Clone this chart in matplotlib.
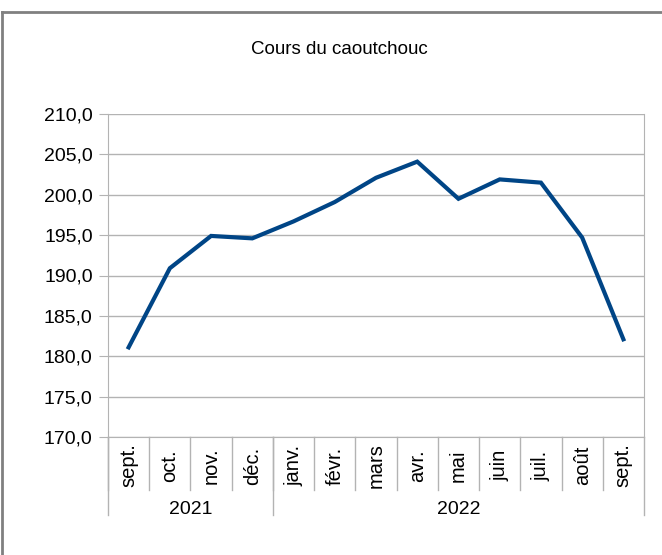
import matplotlib.pyplot as plt
from matplotlib.lines import Line2D

plt.rcParams['font.family'] = ['Liberation Sans', 'DejaVu Sans']

# Data
months = ["sept.", "oct.", "nov.", "déc.", "janv.", "févr.", "mars",
          "avr.", "mai", "juin", "juil.", "août", "sept."]
prices = [181.1, 190.9, 194.9, 194.6, 196.7, 199.1, 202.1,
          204.1, 199.5, 201.9, 201.5, 194.7, 182.1]
years = ["2021", "2022"]
year_counts = [4, 9]

fig = plt.figure(figsize=(6.62, 5.55), dpi=100)
ax = fig.add_axes([108 / 662, 118 / 555, 536 / 662, 323 / 555])

x = list(range(len(months)))
ax.plot(x, prices, color="#004586", linewidth=3, solid_joinstyle="miter")

ax.set_xlim(-0.5, len(months) - 0.5)
ax.set_ylim(170, 210)
ax.set_yticks(range(170, 211, 5))
ax.set_yticklabels([f"{v},0" for v in range(170, 211, 5)], fontsize=14)
ax.yaxis.grid(True, color="#b3b3b3", linewidth=1)
ax.set_axisbelow(True)
ax.tick_params(axis="y", length=6.5, color="#b3b3b3", pad=4.5)
ax.set_xticks([])
for side in ["left", "right", "bottom"]:
    ax.spines[side].set_color("#b3b3b3")
ax.spines["top"].set_visible(False)

trans = ax.get_xaxis_transform()
# month separators and labels
for i, m in enumerate(months):
    ax.plot([i - 0.5, i - 0.5], [0, -0.164], transform=trans, color="#b3b3b3",
            linewidth=1, clip_on=False)
    ax.text(i, -0.088, m, transform=trans, rotation=90, ha="center", va="center",
            fontsize=14.5)

# year groups
start = 0
for yr, n in zip(years, year_counts):
    ax.plot([start - 0.5, start - 0.5], [0, -0.241], transform=trans,
            color="#b3b3b3", linewidth=1, clip_on=False)
    ax.text(start + (n - 1) / 2, -0.226, yr, transform=trans, ha="center",
            va="center", fontsize=14)
    start += n
ax.plot([start - 0.5, start - 0.5], [0, -0.241], transform=trans,
        color="#b3b3b3", linewidth=1, clip_on=False)

fig.text(339 / 662, 1 - 50 / 555, "Cours du caoutchouc", ha="center",
         va="center", fontsize=13.5)

# outer frame (left and top edges visible)
fig.add_artist(Line2D([2 / 662, 2 / 662], [0, 1 - 12 / 555], color="#808080",
                      linewidth=2, transform=fig.transFigure))
fig.add_artist(Line2D([2 / 662, 1], [1 - 12 / 555, 1 - 12 / 555], color="#808080",
                      linewidth=2, transform=fig.transFigure))

fig.savefig("out.png", dpi=100)
